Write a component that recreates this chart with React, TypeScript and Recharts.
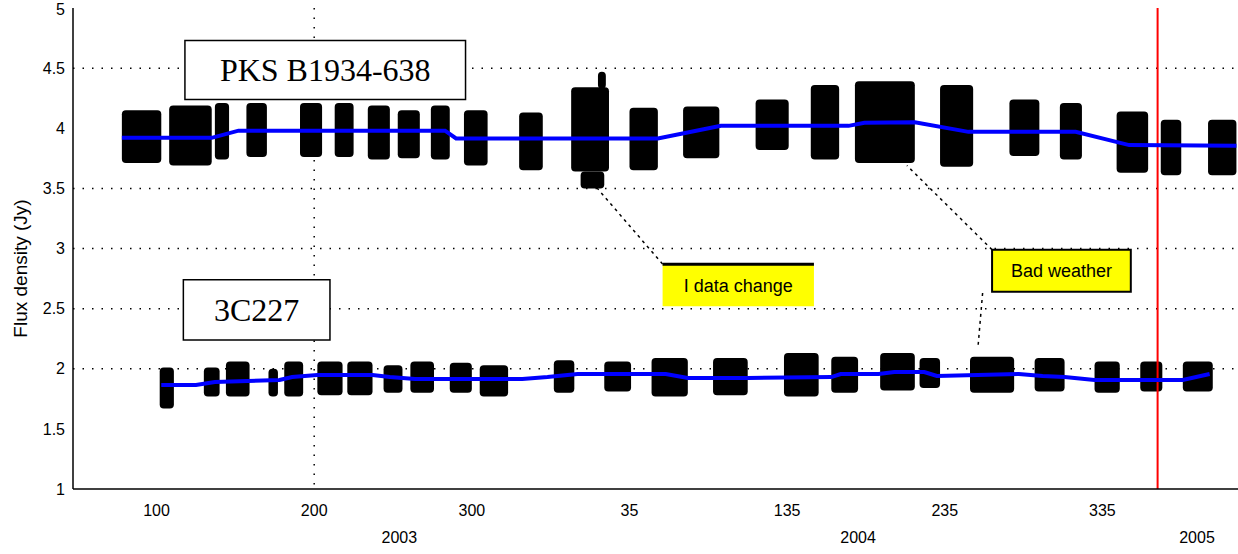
import React from 'react';
import {
  ComposedChart,
  Line,
  XAxis,
  YAxis,
  CartesianGrid,
  ReferenceArea,
  ReferenceLine,
} from 'recharts';

// x = days since 2003-01-01, y = flux density (Jy)
const dayTicks = [100, 200, 300, 400, 500, 600, 700];
const yearTicks = [254, 545, 760];
const yearLabels = ['2003', '2004', '2005'];
const fluxTicks = [1, 1.5, 2, 2.5, 3, 3.5, 4, 4.5, 5];
const gridFlux = [2, 2.5, 3, 3.5, 4.5];

// observing blocks: [start day, end day, low flux, high flux]
const pksBlocks = [
  [78, 103, 3.71, 4.15],
  [108, 135, 3.69, 4.19],
  [137, 146, 3.74, 4.21],
  [157, 170, 3.76, 4.21],
  [191, 205, 3.76, 4.21],
  [213, 225, 3.76, 4.21],
  [234, 248, 3.74, 4.19],
  [253, 267, 3.75, 4.15],
  [274, 286, 3.74, 4.19],
  [295, 310, 3.69, 4.15],
  [330, 345, 3.65, 4.13],
  [363, 387, 3.64, 4.34],
  [380, 385, 4.33, 4.47],
  [369, 384, 3.5, 3.64],
  [400, 418, 3.65, 4.17],
  [434, 457, 3.75, 4.18],
  [480, 501, 3.82, 4.24],
  [515, 533, 3.74, 4.36],
  [543, 581, 3.71, 4.39],
  [597, 618, 3.68, 4.36],
  [641, 660, 3.77, 4.24],
  [673, 687, 3.74, 4.21],
  [709, 729, 3.63, 4.14],
  [737, 750, 3.61, 4.07],
  [767, 785, 3.61, 4.07],
];

const c227Blocks = [
  [102, 111, 1.67, 2.01],
  [130, 140, 1.77, 2.01],
  [144, 159, 1.77, 2.06],
  [171, 177, 1.77, 2.0],
  [181, 193, 1.77, 2.06],
  [202, 218, 1.78, 2.06],
  [221, 237, 1.78, 2.06],
  [244, 256, 1.8, 2.03],
  [261, 276, 1.8, 2.06],
  [286, 300, 1.8, 2.05],
  [305, 323, 1.77, 2.03],
  [352, 365, 1.8, 2.07],
  [384, 401, 1.81, 2.06],
  [414, 437, 1.77, 2.09],
  [453, 475, 1.78, 2.09],
  [498, 520, 1.77, 2.13],
  [528, 545, 1.8, 2.1],
  [559, 581, 1.82, 2.13],
  [584, 597, 1.84, 2.09],
  [616, 644, 1.8, 2.1],
  [657, 676, 1.81, 2.09],
  [695, 711, 1.8, 2.06],
  [724, 738, 1.81, 2.06],
  [751, 770, 1.81, 2.06],
];

// smoothed flux model
const pksDays = [78, 135, 152, 283, 290, 418, 458, 539, 549, 581, 615, 683, 717, 785];
const pksFlux = [3.92, 3.92, 3.98, 3.98, 3.915, 3.915, 4.02, 4.02, 4.045, 4.05, 3.97, 3.97, 3.86, 3.855];

const c227Days = [103, 125, 137, 178, 186, 202, 237, 248, 264, 332, 348, 367, 423, 437, 475, 528, 534, 558, 568, 587, 595, 647, 662, 676, 695, 751, 768];
const c227Flux = [1.865, 1.865, 1.89, 1.906, 1.931, 1.948, 1.948, 1.931, 1.915, 1.915, 1.931, 1.956, 1.956, 1.923, 1.923, 1.931, 1.956, 1.956, 1.973, 1.973, 1.94, 1.956, 1.94, 1.931, 1.906, 1.906, 1.956];

const markerDay = 735;

const pksLine = pksDays.map((d, i) => ({ d, v: pksFlux[i] }));
const c227Line = c227Days.map((d, i) => ({ d, v: c227Flux[i] }));

const dayLabel = (d: number) => String(d > 730 ? d - 730 : d > 365 ? d - 365 : d);

const sans = 'Liberation Sans, Arial, sans-serif';
const serif = 'Liberation Serif, Times New Roman, serif';

// day-of-year labels on the first row, year labels on a second row
const DayTick = (props: any) => {
  const { x, y, payload } = props;
  const yi = yearTicks.indexOf(payload.value);
  if (yi >= 0) {
    return (
      <text x={x} y={y + 52} textAnchor="middle" fill="#000" fontSize={16} fontFamily={sans}>
        {yearLabels[yi]}
      </text>
    );
  }
  return (
    <text x={x} y={y + 25} textAnchor="middle" fill="#000" fontSize={16} fontFamily={sans}>
      {dayLabel(payload.value)}
    </text>
  );
};

export default function App() {
  return (
    <div style={{ position: 'absolute', left: 0, top: 0, width: 1238, height: 554, background: '#fff' }}>
      <ComposedChart width={1238} height={554} margin={{ top: 8, right: 0, bottom: 0, left: 0 }}>
        <CartesianGrid
          horizontalValues={gridFlux}
          verticalValues={[200]}
          stroke="#000"
          strokeWidth={1.5}
          strokeDasharray="1.5 8"
        />
        <XAxis
          dataKey="d"
          type="number"
          domain={[47, 786]}
          ticks={[...dayTicks, ...yearTicks]}
          height={65}
          tickLine={false}
          tickSize={0}
          interval={0}
          axisLine={{ stroke: '#000', strokeWidth: 1.5 }}
          tick={<DayTick />}
          allowDataOverflow
        />
        <YAxis
          type="number"
          domain={[1, 5]}
          ticks={fluxTicks}
          width={73}
          tickLine={false}
          tickSize={0}
          tickMargin={8}
          axisLine={{ stroke: '#000', strokeWidth: 1.5 }}
          tick={{ fill: '#000', fontSize: 16, fontFamily: sans }}
          label={{ value: 'Flux density (Jy)', angle: -90, position: 'center', dx: -16, dy: 20, fill: '#000', fontSize: 19, fontFamily: sans }}
        />

        {pksBlocks.map((b, i) => (
          <ReferenceArea key={`p${i}`} x1={b[0]} x2={b[1]} y1={b[2]} y2={b[3]} fill="#000" fillOpacity={1} stroke="none" radius={4} />
        ))}
        {c227Blocks.map((b, i) => (
          <ReferenceArea key={`c${i}`} x1={b[0]} x2={b[1]} y1={b[2]} y2={b[3]} fill="#000" fillOpacity={1} stroke="none" radius={4} />
        ))}

        <ReferenceLine x={markerDay} stroke="#ff0000" strokeWidth={2} />

        {/* source name boxes */}
        <ReferenceArea
          x1={118} x2={296} y1={4.24} y2={4.73}
          fill="#fff" fillOpacity={1} stroke="#000" strokeWidth={1.5}
          label={{ value: 'PKS B1934-638', position: 'center', fill: '#000', fontSize: 32, fontFamily: serif }}
        />
        <ReferenceArea
          x1={117} x2={210} y1={2.24} y2={2.74}
          fill="#fff" fillOpacity={1} stroke="#000" strokeWidth={1.5}
          label={{ value: '3C227', position: 'center', fill: '#000', fontSize: 32, fontFamily: serif }}
        />

        {/* annotations */}
        <ReferenceLine segment={[{ x: 421, y: 2.87 }, { x: 377, y: 3.54 }]} stroke="#000" strokeWidth={1.5} strokeDasharray="3 4" />
        <ReferenceLine segment={[{ x: 630, y: 2.99 }, { x: 576, y: 3.69 }]} stroke="#000" strokeWidth={1.5} strokeDasharray="3 4" />
        <ReferenceLine segment={[{ x: 624, y: 2.63 }, { x: 621, y: 2.17 }]} stroke="#000" strokeWidth={1.5} strokeDasharray="3 4" />
        <ReferenceArea
          x1={421} x2={517} y1={2.52} y2={2.87}
          fill="#ffff00" fillOpacity={1} stroke="none"
          label={{ value: 'I data change', position: 'center', fill: '#000', fontSize: 18, fontFamily: sans }}
        />
        <ReferenceLine segment={[{ x: 421, y: 2.87 }, { x: 517, y: 2.87 }]} stroke="#000" strokeWidth={3} />
        <ReferenceArea
          x1={630} x2={718} y1={2.64} y2={2.99}
          fill="#ffff00" fillOpacity={1} stroke="#000" strokeWidth={2}
          label={{ value: 'Bad weather', position: 'center', fill: '#000', fontSize: 18, fontFamily: sans }}
        />

        <Line data={pksLine} dataKey="v" type="linear" stroke="#0000ff" strokeWidth={4} dot={false} isAnimationActive={false} />
        <Line data={c227Line} dataKey="v" type="linear" stroke="#0000ff" strokeWidth={4} dot={false} isAnimationActive={false} />
      </ComposedChart>
    </div>
  );
}
